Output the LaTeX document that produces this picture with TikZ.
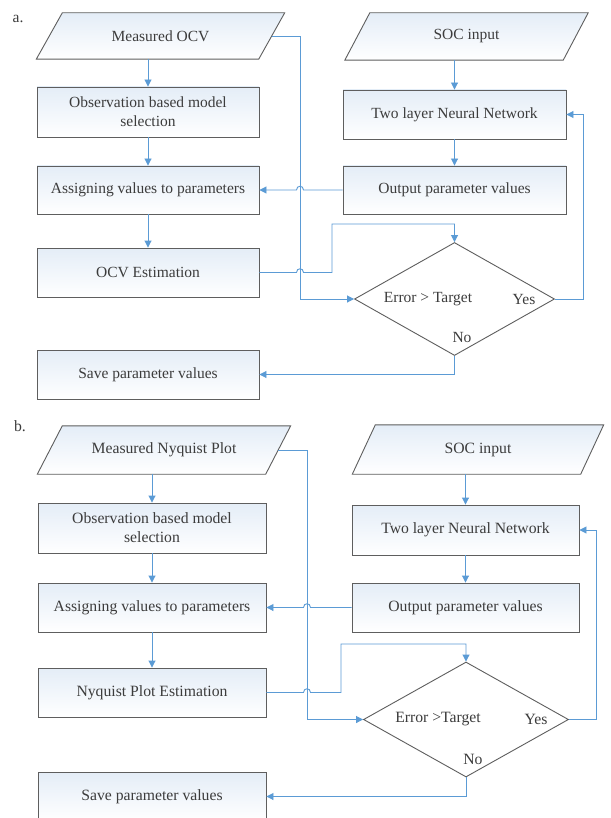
\documentclass[tikz,border=0pt]{standalone}
\usepackage{fontspec}
\setmainfont{Liberation Serif}
\usetikzlibrary{shapes.geometric,arrows.meta,calc}
\pgfdeclarelayer{background}
\pgfsetlayers{background,main}
\definecolor{conncol}{HTML}{5B9BD5}
\definecolor{edgecol}{HTML}{5E5E5E}
\definecolor{inkcol}{HTML}{3C3C3C}
\definecolor{tintcol}{HTML}{E4EDF7}
\begin{document}
\begin{tikzpicture}[x=1pt,y=-1pt,
  every node/.style={inner sep=0pt, text=inkcol, font=\fontsize{15.5}{19}\selectfont},
  fcbox/.style={draw=edgecol, line width=0.9pt, top color=tintcol, bottom color=white, align=center},
  pgtext/.style={align=center},
  pgshape/.style={draw=edgecol, line width=0.9pt, top color=tintcol, bottom color=white},
  dia/.style={shape=diamond, draw=edgecol, line width=0.9pt, fill=white},
  conn/.style={draw=conncol, line width=0.9pt, -{Triangle[length=7pt,width=7pt]}},
  plain/.style={draw=conncol, line width=0.9pt}
]
\useasboundingbox (0,0) rectangle (610,818);
\begin{pgfonlayer}{background}
\fill[white] (0,0) rectangle (610,818);
\end{pgfonlayer}

% ================= panel a =================
\node (la) at (18,19) {a.};
\node[pgtext, minimum width=222pt, minimum height=46pt] (ma) at (160.5,36) {Measured OCV};
\node[pgtext, minimum width=218pt, minimum height=47pt] (sa) at (466.5,36.5) {SOC input};
\begin{pgfonlayer}{background}
\draw[pgshape] ([xshift=13pt]ma.north west) -- ([xshift=13pt]ma.north east) -- ([xshift=-13pt]ma.south east) -- ([xshift=-13pt]ma.south west) -- cycle;
\draw[pgshape] ([xshift=12.5pt]sa.north west) -- ([xshift=12.5pt]sa.north east) -- ([xshift=-12.5pt]sa.south east) -- ([xshift=-12.5pt]sa.south west) -- cycle;
\end{pgfonlayer}
\node[fcbox, minimum width=222pt, minimum height=50pt] (a1) at (148,112) {Observation based model\\selection};
\node[fcbox, minimum width=222pt, minimum height=48pt] (a2) at (148,190) {Assigning values to parameters};
\node[fcbox, minimum width=222pt, minimum height=49pt] (a3) at (148,272.5) {OCV Estimation};
\node[fcbox, minimum width=222pt, minimum height=49pt] (a4) at (148,374.5) {Save parameter values};
\node[fcbox, minimum width=223pt, minimum height=49pt] (na) at (454.5,114.5) {Two layer Neural Network};
\node[fcbox, minimum width=223pt, minimum height=48pt] (oa) at (454.5,190) {Output parameter values};
\node[dia, minimum width=200pt, minimum height=113pt] (da) at (454.5,299) {};
\node (ea1) at (428,299) {Error > Target};
\node (ya1) at (524,299) {Yes};
\node (no1) at (462,337) {No};

\coordinate (va) at (300,299);
\coordinate (ra) at (332,224);
\coordinate (ha) at (va |- oa.west);
\coordinate (hb) at (va |- a3.east);
\draw[conn] (a1.north |- ma.south) -- (a1.north);
\draw[conn] (a1.south) -- (a2.north);
\draw[conn] (a2.south) -- (a3.north);
\draw[conn] (na.north |- sa.south) -- (na.north);
\draw[conn] (na.south) -- (oa.north);
\draw[conn] (ma.east) -| (va) -- (da.west);
\draw[conn] (oa.west) -- ([xshift=3.5pt]ha) .. controls ([xshift=3.5pt,yshift=5pt]ha) and ([xshift=-3.5pt,yshift=5pt]ha) .. ([xshift=-3.5pt]ha) -- (a2.east);
\draw[conn] (a3.east) -- ([xshift=-3.5pt]hb) .. controls ([xshift=-3.5pt,yshift=5pt]hb) and ([xshift=3.5pt,yshift=5pt]hb) .. ([xshift=3.5pt]hb) -- (ra |- a3.east) -- (ra) -| (da.north);
\draw[conn] (da.east) -| ($(na.east)+(17,0)$) -- (na.east);
\draw[conn] (da.south) |- (a4.east);

% ================= panel b =================
\begin{scope}[every node/.append style={font=\fontsize{15.7}{19}\selectfont}]
\node (lb) at (20,426) {b.};
\node[pgtext, minimum width=228pt, minimum height=48pt] (mb) at (164,450) {Measured Nyquist Plot};
\node[pgtext, minimum width=228pt, minimum height=49pt] (sb) at (478,449.5) {SOC input};
\begin{pgfonlayer}{background}
\draw[pgshape] ([xshift=12.5pt]mb.north west) -- ([xshift=12.5pt]mb.north east) -- ([xshift=-12.5pt]mb.south east) -- ([xshift=-12.5pt]mb.south west) -- cycle;
\draw[pgshape] ([xshift=11.5pt]sb.north west) -- ([xshift=11.5pt]sb.north east) -- ([xshift=-11.5pt]sb.south east) -- ([xshift=-11.5pt]sb.south west) -- cycle;
\end{pgfonlayer}
\node[fcbox, minimum width=228pt, minimum height=50pt] (b1) at (152,528) {Observation based model\\selection};
\node[fcbox, minimum width=228pt, minimum height=49pt] (b2) at (152,607.5) {Assigning values to parameters};
\node[fcbox, minimum width=228pt, minimum height=49pt] (b3) at (152,692.5) {Nyquist Plot Estimation};
\node[fcbox, minimum width=228pt, minimum height=49pt] (b4) at (152,796.5) {Save parameter values};
\node[fcbox, minimum width=227pt, minimum height=50pt] (nb) at (465.5,530) {Two layer Neural Network};
\node[fcbox, minimum width=227pt, minimum height=49pt] (ob) at (465.5,607.5) {Output parameter values};
\node[dia, minimum width=205pt, minimum height=115pt] (db) at (466,719.5) {};
\node (eb1) at (438,719.5) {Error >Target};
\node (yb1) at (536,719.5) {Yes};
\node (nob1) at (473,759) {No};
\end{scope}

\coordinate (vb) at (307,719.5);
\coordinate (rb) at (341,644);
\coordinate (hc) at (vb |- ob.west);
\coordinate (hd) at (vb |- b3.east);
\draw[conn] (b1.north |- mb.south) -- (b1.north);
\draw[conn] (b1.south) -- (b2.north);
\draw[conn] (b2.south) -- (b3.north);
\draw[conn] (nb.north |- sb.south) -- (nb.north);
\draw[conn] (nb.south) -- (ob.north);
\draw[conn] (mb.east) -| (vb) -- (db.west);
\draw[conn] (ob.west) -- ([xshift=3.5pt]hc) .. controls ([xshift=3.5pt,yshift=5pt]hc) and ([xshift=-3.5pt,yshift=5pt]hc) .. ([xshift=-3.5pt]hc) -- (b2.east);
\draw[conn] (b3.east) -- ([xshift=-3.5pt]hd) .. controls ([xshift=-3.5pt,yshift=5pt]hd) and ([xshift=3.5pt,yshift=5pt]hd) .. ([xshift=3.5pt]hd) -- (rb |- b3.east) -- (rb) -| (db.north);
\draw[conn] (db.east) -| ($(nb.east)+(17,0)$) -- (nb.east);
\draw[conn] (db.south) |- (b4.east);
\end{tikzpicture}
\end{document}
